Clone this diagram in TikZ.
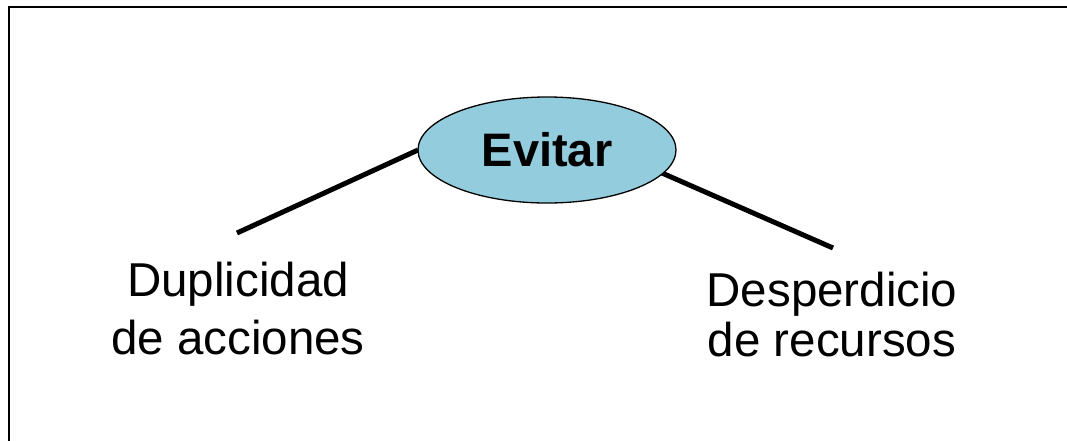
\documentclass[tikz,border=0pt]{standalone}
\usepackage{fontspec}
\setmainfont{Liberation Sans}
\usetikzlibrary{shapes.geometric}

\definecolor{evitarblue}{HTML}{93CDDD}

\tikzset{
  hub/.style={ellipse,draw=black,line width=1.3pt,fill=evitarblue,
    minimum width=258pt,minimum height=106pt,inner sep=0pt,
    font=\fontsize{47}{56}\selectfont\bfseries},
  leaf/.style={align=center,inner sep=0pt},
  branch/.style={line width=5pt}
}

\begin{document}
\begin{tikzpicture}[x=1pt,y=-1pt]
    \useasboundingbox (0,0) rectangle (1067,440);
    % frame, only left and top edges fall inside the page
    \draw[line width=2.6pt] (9,480) |- (1100,7);

    \coordinate (dupend) at (237,233);
    \coordinate (desend) at (833,248);

    \draw[branch] (418,150) -- (dupend);
    \draw[branch] (662,173) -- (desend);

    \node[hub] (evitar) at (547,150) {Evitar};

    \node[leaf,font=\fontsize{47.5}{58}\selectfont] (duplicidad) at (238,308.5)
        {Duplicidad\\de acciones};
    \node[leaf,font=\fontsize{47.5}{50}\selectfont] (desperdicio) at (832,314.5)
        {Desperdicio\\de recursos};
\end{tikzpicture}
\end{document}
